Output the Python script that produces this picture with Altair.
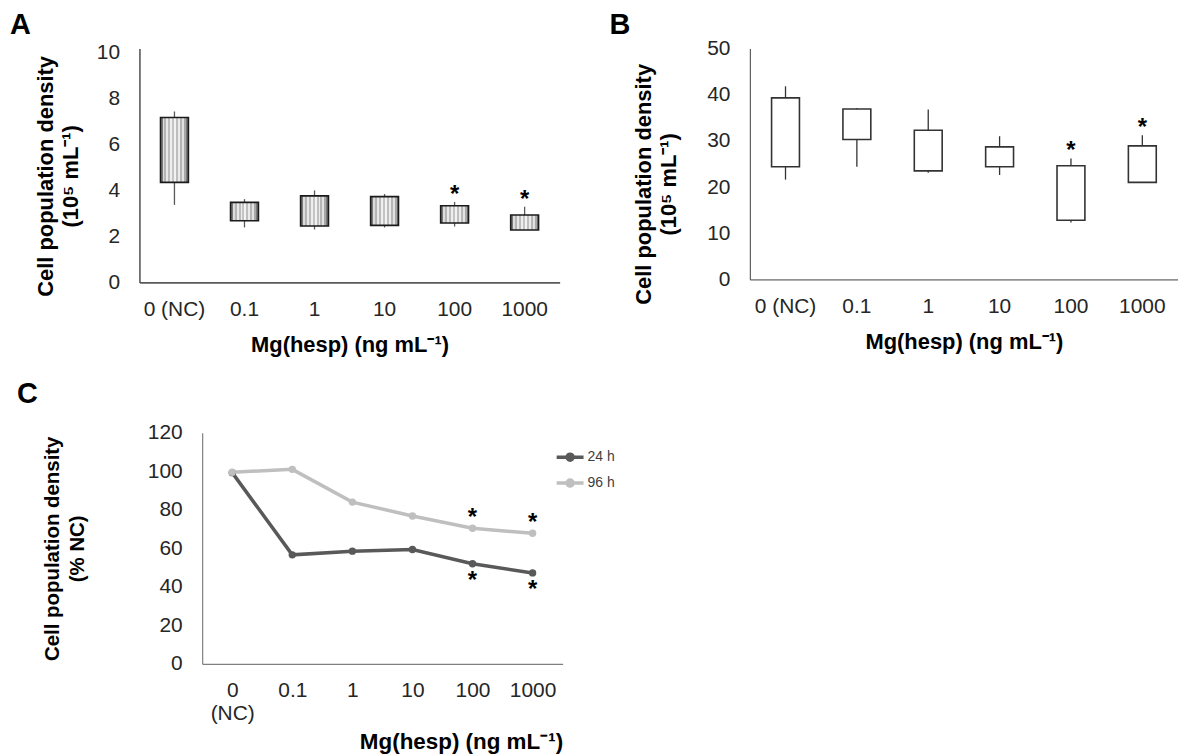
import altair as alt
import pandas as pd

FONT = "Liberation Sans, Arial, sans-serif"

# ---------------- data ----------------
cats = ["0 (NC)", "0.1", "1", "10", "100", "1000"]

# Panel A (24 h), 10^5 mL-1
a_box_high = [7.17, 3.48, 3.76, 3.73, 3.33, 2.93]
a_box_low = [4.35, 2.68, 2.45, 2.48, 2.58, 2.28]
a_whisk_high = [7.43, 3.62, 4.00, 3.84, 3.50, 3.29]
a_whisk_low = [3.37, 2.39, 2.30, 2.39, 2.43, 2.28]
a_sig = [False, False, False, False, True, True]

# Panel B (96 h), 10^5 mL-1
b_box_high = [39.3, 36.9, 32.3, 28.7, 24.6, 28.9]
b_box_low = [24.4, 30.3, 23.5, 24.4, 12.8, 21.0]
b_whisk_high = [41.8, 37.1, 36.8, 31.0, 26.2, 31.2]
b_whisk_low = [21.6, 24.4, 23.1, 22.6, 12.3, 21.0]
b_sig = [False, False, False, False, True, True]

# Panel C, % NC
series = ["24 h", "96 h"]
c_24h = [99.3, 56.6, 58.5, 59.4, 52.0, 47.2]
c_96h = [99.5, 101.0, 84.0, 76.8, 70.4, 67.8]
c_sig_24h = [False, False, False, False, True, True]
c_sig_96h = [False, False, False, False, True, True]

y_title_ab = ["Cell population density", "(10\u2075 mL\u207b\u00b9)"]
y_title_c = ["Cell population density", "(% NC)"]
x_title = "Mg(hesp) (ng mL\u207b\u00b9)"

# striped fill for panel A boxes
stripe_cols = ["#7a7a7a", "#dcdcdc", "#b4b4b4", "#e8e8e8", "#bcbcbc", "#eeeeee", "#c4c4c4",
               "#f2f2f2", "#bebebe", "#ebebeb", "#b6b6b6", "#e2e2e2", "#a8a8a8", "#7a7a7a"]
stops = []
n = len(stripe_cols)
for i, c in enumerate(stripe_cols):
    stops.append({"offset": i / n, "color": c})
    stops.append({"offset": (i + 1) / n, "color": c})
striped = {"gradient": "linear", "x1": 0, "x2": 1, "y1": 0, "y2": 0, "stops": stops}


def box_panel(letter, hi, lo, whi, wlo, sig, dmax, yvals, width, height,
              fill, box_stroke, whisk_color, dom_color, dom_width, title_pad, title_y,
              letter_x, letter_y):
    df = pd.DataFrame({"cat": cats, "hi": hi, "lo": lo, "whi": whi, "wlo": wlo, "sig": sig})
    xax = alt.Axis(title=x_title, titleFont=FONT, titleFontSize=22, titleFontWeight="bold",
                   titleColor="black", titlePadding=15, labelFont=FONT, labelFontSize=21,
                   labelColor="#262626", labelPadding=16, labelAngle=0, ticks=False,
                   grid=False, domainColor=dom_color, domainWidth=dom_width)
    yax = alt.Axis(title=y_title_ab, values=yvals, titleFont=FONT, titleFontSize=22,
                   titleFontWeight="bold", titleColor="black", titlePadding=title_pad,
                   titleLineHeight=25, titleY=title_y, labelFont=FONT, labelFontSize=21,
                   labelColor="#262626", labelPadding=20, ticks=False, grid=False,
                   domainColor=dom_color, domainWidth=dom_width)
    x = alt.X("cat:N", sort=cats, scale=alt.Scale(paddingInner=0, paddingOuter=0), axis=xax)
    ysc = alt.Scale(domain=[0, dmax], nice=False, zero=True)
    base = alt.Chart(df)
    whisk = base.mark_rule(color=whisk_color, strokeWidth=1.3).encode(
        x=x, y=alt.Y("wlo:Q", scale=ysc, axis=yax), y2="whi:Q")
    box = base.mark_bar(width=28, fill=fill, stroke=box_stroke, strokeWidth=1.6).encode(
        x=x, y=alt.Y("lo:Q", scale=ysc, axis=yax), y2="hi:Q")
    stars = base.transform_filter("datum.sig").mark_text(
        text="*", font=FONT, fontSize=24, fontWeight="bold", color="black",
        baseline="alphabetic", dy=0).encode(x=x, y=alt.Y("whi:Q", scale=ysc, axis=yax))
    lab = alt.Chart(pd.DataFrame({"t": [letter]})).mark_text(
        font=FONT, fontSize=29, fontWeight="bold", align="left", baseline="top",
        color="black").encode(x=alt.value(letter_x), y=alt.value(letter_y), text="t:N")
    return alt.layer(whisk, box, stars, lab).properties(width=width, height=height)


panel_a = box_panel("A", a_box_high, a_box_low, a_whisk_high, a_whisk_low, a_sig,
                    10.17, [0, 2, 4, 6, 8, 10], 422, 235, striped, "#1a1a1a", "#595959",
                    "#595959", 1.6, 14, 128, -130, -37)
panel_b = box_panel("B", b_box_high, b_box_low, b_whisk_high, b_whisk_low, b_sig,
                    50, [0, 10, 20, 30, 40, 50], 430, 232, "white", "#333333", "#333333",
                    "#404040", 1.0, 26, 136, -141, -37)

# ---------------- panel C ----------------
c_df = pd.DataFrame({
    "cat": cats * 2,
    "series": [series[0]] * len(cats) + [series[1]] * len(cats),
    "value": c_24h + c_96h,
    "sig": c_sig_24h + c_sig_96h,
})

xc_ax = alt.Axis(title=x_title, titleFont=FONT, titleFontSize=22.5, titleFontWeight="bold",
                 titleColor="black", titlePadding=7, titleAnchor="end",
                 labelFont=FONT, labelFontSize=21, labelColor="#262626", labelPadding=16,
                 labelAngle=0, labelLineHeight=23,
                 labelExpr="datum.value == '0 (NC)' ? ['0', '(NC)'] : datum.label",
                 ticks=False, grid=False, domainColor="#7f7f7f", domainWidth=1.2)
yc_ax = alt.Axis(title=y_title_c, values=[0, 20, 40, 60, 80, 100, 120], titleFont=FONT,
                 titleFontSize=20.5, titleFontWeight="bold", titleColor="black",
                 titlePadding=60, titleLineHeight=25, labelFont=FONT, labelFontSize=21,
                 labelColor="#262626", labelPadding=20, ticks=False, grid=False,
                 domainColor="#7f7f7f", domainWidth=1.2)
xc = alt.X("cat:N", sort=cats, scale=alt.Scale(type="point", padding=0.5), axis=xc_ax)
yc = alt.Y("value:Q", scale=alt.Scale(domain=[0, 120], nice=False), axis=yc_ax)

sym = "M-1,0H1M0.22,0A0.22,0.22,0,1,1,-0.22,0A0.22,0.22,0,1,1,0.22,0Z"
color = alt.Color("series:N", scale=alt.Scale(domain=series, range=["#595959", "#bfbfbf"]),
                  legend=alt.Legend(title=None, orient="none", legendX=417, legendY=395,
                                    padding=0, rowPadding=0, symbolType=sym, symbolSize=729,
                                    symbolStrokeWidth=3.5, labelFont=FONT, labelFontSize=14,
                                    labelColor="#404040", labelOffset=2))

c_base = alt.Chart(c_df)
c_lines = c_base.mark_line(strokeWidth=3.5).encode(x=xc, y=yc, color=color)
c_points = c_base.mark_circle(size=55, opacity=1).encode(x=xc, y=yc, color=color)
c_star_up = c_base.transform_filter("datum.sig && datum.series == '96 h'").mark_text(
    text="*", font=FONT, fontSize=24, fontWeight="bold", color="black",
    baseline="alphabetic", dy=-3).encode(x=xc, y=yc)
c_star_dn = c_base.transform_filter("datum.sig && datum.series == '24 h'").mark_text(
    text="*", font=FONT, fontSize=24, fontWeight="bold", color="black",
    baseline="alphabetic", dy=24).encode(x=xc, y=yc)
c_lab = alt.Chart(pd.DataFrame({"t": ["C"]})).mark_text(
    font=FONT, fontSize=29, fontWeight="bold", align="left", baseline="top",
    color="black").encode(x=alt.value(-186), y=alt.value(-53), text="t:N")

panel_c = alt.layer(c_lines, c_points, c_star_up, c_star_dn, c_lab).properties(
    width=362, height=232)

spacer = alt.Chart(pd.DataFrame({"v": [0]})).mark_point(opacity=0).encode(
    x=alt.value(0), y=alt.value(0)).properties(width=1, height=1)

top = alt.hconcat(panel_a, panel_b, spacing=191, bounds="flush")
bottom = alt.hconcat(spacer, panel_c, spacing=62, bounds="flush")

chart = alt.vconcat(top, bottom, spacing=386, bounds="flush").properties(
    padding={"left": 2, "top": 2, "right": 0, "bottom": 0}
).configure_view(stroke=None)

chart.save("out.html", embed_options={"renderer": "svg", "actions": False})
